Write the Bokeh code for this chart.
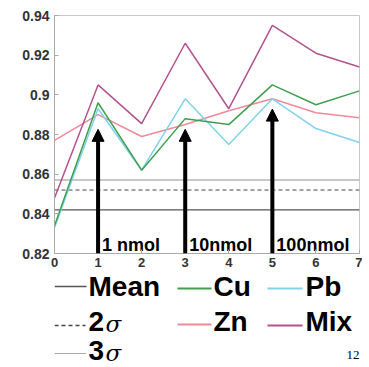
from bokeh.plotting import figure
from bokeh.models import Range1d, FixedTicker, Arrow, NormalHead
from bokeh.layouts import column
from bokeh.core.properties import value
from bokeh.embed import file_html
from bokeh.resources import INLINE

# ---- data ----
x = [0, 1, 2, 3, 4, 5, 6, 7]
cu = [0.834, 0.896, 0.862, 0.888, 0.885, 0.905, 0.895, 0.902]
pb = [0.833, 0.893, 0.862, 0.898, 0.875, 0.898, 0.883, 0.876]
zn = [0.877, 0.890, 0.879, 0.885, 0.892, 0.898, 0.891, 0.8885]
mix = [0.848, 0.905, 0.8855, 0.926, 0.893, 0.935, 0.921, 0.914]
mean_val = 0.842
sigma2_val = 0.852
sigma3_val = 0.857
arrow_x = [1, 3, 5]
arrow_top = [0.8826, 0.8826, 0.8928]
arrow_labels = ["1 nmol", "10nmol", "100nmol"]
y_ticks = [0.82, 0.84, 0.86, 0.88, 0.90, 0.92, 0.94]
y_tick_labels = ["0.82", "0.84", "0.86", "0.88", "0.9", "0.92", "0.94"]
x_ticks = [0, 1, 2, 3, 4, 5, 6, 7]

colors = {"Cu": "#3f9f4f", "Pb": "#7fd3ea", "Zn": "#f2899a", "Mix": "#b4518f",
          "Mean": "#555555", "2s": "#444444", "3s": "#b5b5b5"}

FONT = "Liberation Sans"

p = figure(width=362, height=271, output_backend="svg", toolbar_location=None,
           x_range=Range1d(0, 7), y_range=Range1d(0.82, 0.94),
           min_border_left=54, min_border_right=3, min_border_top=15,
           min_border_bottom=18)
p.xgrid.visible = False
p.ygrid.visible = False
p.outline_line_color = "#c8c8c8"
p.background_fill_color = "white"
p.border_fill_color = "white"

for ax in p.xaxis + p.yaxis:
    ax.axis_line_color = "#aaaaaa"
    ax.major_tick_line_color = "#aaaaaa"
    ax.major_tick_in = 4
    ax.major_tick_out = 0
    ax.minor_tick_line_color = None
    ax.major_label_text_font = FONT
    ax.major_label_text_font_style = "bold"
    ax.major_label_text_color = "#333333"

p.yaxis.ticker = FixedTicker(ticks=y_ticks)
p.yaxis.major_label_overrides = {t: l for t, l in zip(y_ticks, y_tick_labels)}
p.yaxis.major_label_text_font_size = "14px"
p.yaxis.major_label_standoff = 5
p.xaxis.ticker = FixedTicker(ticks=x_ticks)
p.xaxis.major_label_text_font_size = "13px"
p.xaxis.major_label_standoff = 4

# reference lines
p.line([x[0], x[-1]], [sigma3_val, sigma3_val], line_color=colors["3s"], line_width=1.5)
p.line([x[0], x[-1]], [sigma2_val, sigma2_val], line_color=colors["2s"], line_width=1,
       line_dash="4 3")
p.line([x[0], x[-1]], [mean_val, mean_val], line_color=colors["Mean"], line_width=1.3)

# series
for name, ys in [("Zn", zn), ("Pb", pb), ("Cu", cu), ("Mix", mix)]:
    p.line(x, ys, line_color=colors[name], line_width=1.5)

# arrows
for ax_, top_ in zip(arrow_x, arrow_top):
    p.add_layout(Arrow(x_start=ax_, y_start=0.82, x_end=ax_, y_end=top_,
                       line_width=4, line_color="black",
                       end=NormalHead(size=12, fill_color="black", line_color="black",
                                      line_width=1)))

p.text(x=arrow_x, y=[0.8243] * 3, text=arrow_labels, x_offset=4,
       text_font=value(FONT), text_font_style="bold", text_font_size="18px",
       text_color="black", text_baseline="alphabetic", text_align="left")

# ---- legend panel (frame is aligned with the plot frame: pixels 54..359) ----
LH = 96
L = figure(width=362, height=LH, output_backend="svg", toolbar_location=None,
           x_range=Range1d(54, 359), y_range=Range1d(LH, 0),
           min_border=0, min_border_left=54, min_border_right=3,
           min_border_top=0, min_border_bottom=0)
L.axis.visible = False
L.xgrid.visible = False
L.ygrid.visible = False
L.outline_line_color = None

leg_rows = [
    ("Mean", 54, 86, 15, colors["Mean"], None, 1.5),
    ("2s", 54, 85, 54, colors["2s"], "4 3", 1.5),
    ("3s", 54, 85, 82, "#555555", "1 1", 1),
    ("Cu", 177, 211, 17, colors["Cu"], None, 2),
    ("Zn", 177, 211, 53, colors["Zn"], None, 2),
    ("Pb", 267, 302, 17, colors["Pb"], None, 2),
    ("Mix", 267, 302, 54, colors["Mix"], None, 2),
]
for name, x0, x1, yy, c, dash, w in leg_rows:
    kw = {}
    if dash:
        kw["line_dash"] = dash
    L.line([x0, x1], [yy, yy], line_color=c, line_width=w, **kw)

L.text(x=[88, 213, 305, 213, 305], y=[15, 15, 15, 50, 50],
       text=["Mean", "Cu", "Pb", "Zn", "Mix"],
       text_font=value(FONT), text_font_style="bold", text_font_size="28px",
       text_color="black", text_baseline="middle", text_align="left")
L.text(x=[88, 88], y=[50, 79], text=["2", "3"],
       text_font=value(FONT), text_font_style="bold", text_font_size="28px",
       text_color="black", text_baseline="middle", text_align="left")
L.text(x=[105, 105], y=[52, 81], text=["σ", "σ"],
       text_font=value("DejaVu Serif"), text_font_style="italic", text_font_size="23px",
       text_color="black", text_baseline="middle", text_align="left")
L.text(x=[346], y=[83], text=["12"], text_font=value("Liberation Serif"),
       text_font_size="13px", text_color="black", text_baseline="middle",
       text_align="left")

layout = column(p, L, spacing=0)
open("out.html", "w").write(file_html(layout, INLINE))
